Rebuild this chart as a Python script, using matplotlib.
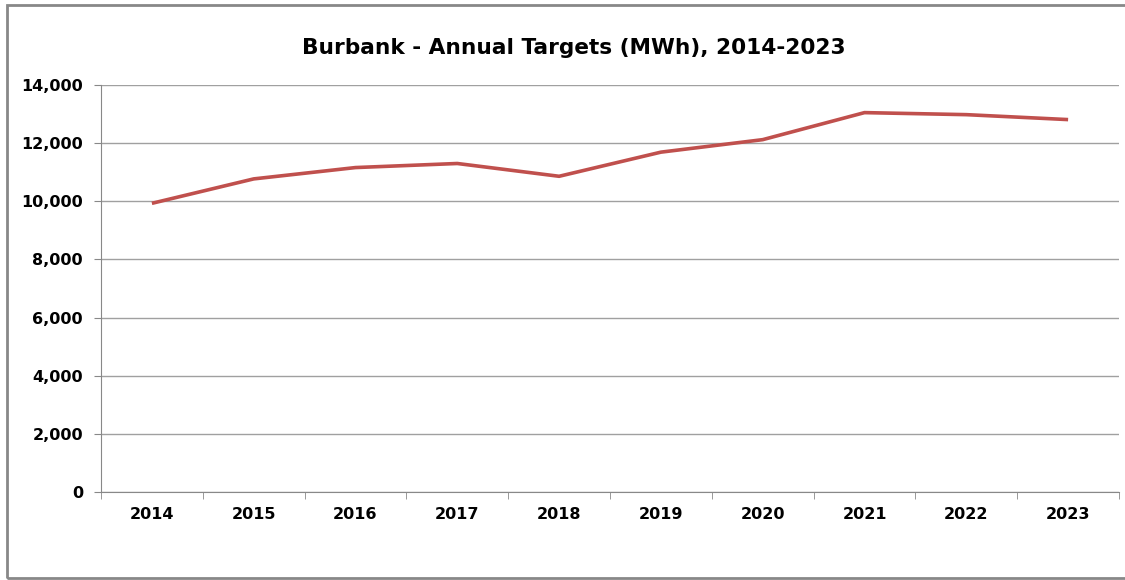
import matplotlib.pyplot as plt
import numpy as np
from matplotlib.patches import Rectangle
from matplotlib.ticker import FuncFormatter

# data
years = ['2014', '2015', '2016', '2017', '2018', '2019', '2020', '2021', '2022', '2023']
targets = [9930, 10770, 11160, 11300, 10860, 11690, 12120, 13050, 12980, 12810]
y_ticks = [0, 2000, 4000, 6000, 8000, 10000, 12000, 14000]

fig = plt.figure(figsize=(11.25, 5.8), dpi=100)
ax = fig.add_axes([101 / 1125, 1 - 492 / 580, (1119 - 101) / 1125, (492 - 85) / 580])

x = np.arange(len(years))
ax.plot(x, targets, color='#C0504D', linewidth=2.6, solid_capstyle='butt')

ax.set_xlim(-0.5, len(years) - 0.5)
ax.set_ylim(0, 14000)
ax.set_yticks(y_ticks)
ax.yaxis.set_major_formatter(FuncFormatter(lambda v, p: f'{int(v):,}'))
ax.grid(axis='y', color='#a0a0a0', linewidth=1)
ax.set_axisbelow(True)

# category labels centred, tick marks between categories
ax.set_xticks(x)
ax.set_xticklabels(years)
ax.set_xticks(np.arange(len(years) + 1) - 0.5, minor=True)
ax.tick_params(axis='x', which='major', length=0, pad=11)
ax.tick_params(axis='x', which='minor', length=5, color='#888888')
ax.tick_params(axis='y', length=5, color='#888888', pad=8)
for lbl in ax.get_xticklabels() + ax.get_yticklabels():
    lbl.set_fontsize(11.5)
    lbl.set_fontweight('bold')

for side in ['top', 'right']:
    ax.spines[side].set_visible(False)
for side in ['left', 'bottom']:
    ax.spines[side].set_color('#888888')

fig.text(574 / 1125, 1 - 48 / 580, 'Burbank - Annual Targets (MWh), 2014-2023',
         ha='center', va='center', fontsize=15.6, fontweight='bold')

# outer chart border
fig.patches.append(Rectangle((7 / 1125, 1 - 578 / 580), 1.2, (578 - 5) / 580,
                             transform=fig.transFigure, fill=False,
                             edgecolor='#888888', linewidth=2))

fig.savefig('out.png', dpi=100)
